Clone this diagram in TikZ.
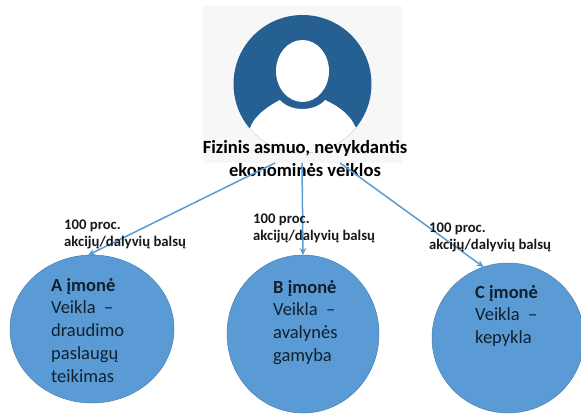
\documentclass[tikz,border=0pt]{standalone}
\usepackage{fontspec}
\setmainfont{Carlito}
\usetikzlibrary{shapes.geometric,arrows.meta}
\definecolor{bluefill}{HTML}{5B9BD5}
\definecolor{blueedge}{HTML}{4A80B0}
\definecolor{linkblue}{HTML}{5B9BD5}
\definecolor{avatar}{HTML}{265F91}
\definecolor{panel}{HTML}{F7F7F7}
\definecolor{ink}{HTML}{10202C}
\tikzset{
  company/.style={ellipse,draw=blueedge,line width=.5pt,fill=bluefill,inner sep=0pt,outer sep=0pt},
  link/.style={draw=linkblue,line width=1.5pt,-{Stealth[length=7pt,width=6.5pt]}},
  share/.style={anchor=north west,font=\fontsize{14.7}{17}\selectfont\bfseries,align=left,inner sep=0pt,text=black!90},
  body/.style={anchor=north west,font=\fontsize{18.5}{22.7}\selectfont,align=left,inner sep=0pt,text=ink},
  owner/.style={font=\fontsize{18.6}{23}\selectfont\bfseries,align=center,inner sep=0pt,text=black}
}
\begin{document}
\begin{tikzpicture}[x=1pt,y=-1pt]
\useasboundingbox (0,0) rectangle (581,414);
\fill[white] (0,0) rectangle (581,414);
\fill[panel] (203,6) rectangle (402,163);
\fill[avatar] (302.5,84) circle[radius=69];
\begin{scope}
  \clip (302.5,84) circle[radius=69];
  \fill[white] (240,160) -- (250,128) .. controls (254,116) and (268,106) .. (280,100)
    .. controls (290,112) and (315,112) .. (325,100)
    .. controls (338,106) and (350,114) .. (356,128) -- (366,160) -- cycle;
\end{scope}
\fill[white] (302.5,71) ellipse[x radius=26.5,y radius=31];
\node[company,minimum width=164pt,minimum height=148pt] (a) at (92,329) {};
\node[company,minimum width=152pt,minimum height=158pt] (b) at (303,334) {};
\node[company,minimum width=152pt,minimum height=150pt] (c) at (508,338) {};
\node[owner] (owner) at (305,158.5) {Fizinis asmuo, nevykdantis\\ekonominės veiklos};
\coordinate (ownerA) at (275,163);
\coordinate (ownerB) at (302,163);
\coordinate (ownerC) at (340,163);
\draw[link] (ownerA) -- (a.93);
\draw[link] (ownerB) -- (b.north);
\draw[link] (ownerC) -- (c.109);
\node[share] (la) at (64,220) {100 proc.\\akcijų/dalyvių balsų};
\node[share] (lb) at (253,214) {100 proc.\\akcijų/dalyvių balsų};
\node[share] (lc) at (429,223) {100 proc.\\akcijų/dalyvių balsų};
\node[body] (ta) at (51,278) {\textbf{A įmonė}\\Veikla\ \ –\\draudimo\\paslaugų\\teikimas};
\node[body] (tb) at (273,280) {\textbf{B įmonė}\\Veikla\ \ –\\avalynės\\gamyba};
\node[body] (tc) at (475,285) {\textbf{C įmonė}\\Veikla\ \ –\\kepykla};
\end{tikzpicture}
\end{document}
